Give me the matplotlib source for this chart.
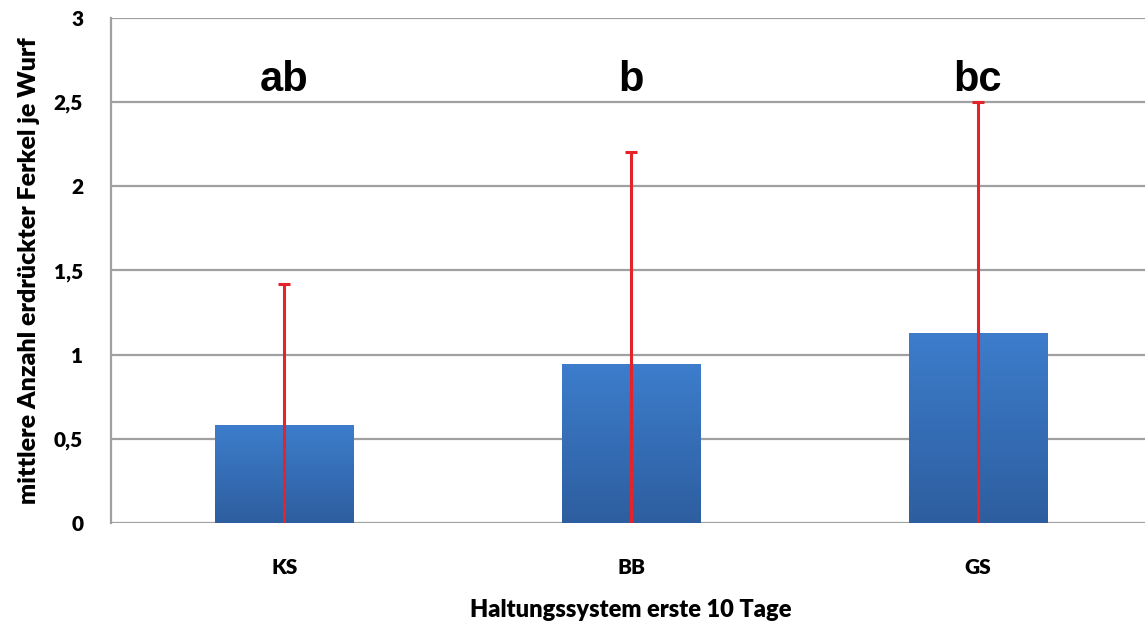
import numpy as np
import matplotlib.pyplot as plt
from matplotlib.colors import LinearSegmentedColormap

# mean crushed piglets per litter, by housing system (first 10 days)
systems = ['KS', 'BB', 'GS']
means = [0.58, 0.945, 1.13]
err_top = [1.42, 2.205, 2.50]
letters = ['ab', 'b', 'bc']

errs = [t - m for t, m in zip(err_top, means)]

plt.rcParams['font.family'] = ['Lato', 'DejaVu Sans']

fig = plt.figure(figsize=(11.45, 6.33), dpi=100)
ax = fig.add_axes([0.0969, 0.1738, 0.9087, 0.7978])

x = np.arange(len(systems))
width = 0.4
bars = ax.bar(x, means, width, color='#3572c0', zorder=2)

# vertical blue gradient inside each bar
cmap = LinearSegmentedColormap.from_list('bar', ['#2d5e9f', '#3d7dcc'])
grad = np.linspace(0, 1, 256).reshape(-1, 1)
for b in bars:
    x0, y0 = b.get_x(), b.get_y()
    im = ax.imshow(grad, cmap=cmap, origin='lower', aspect='auto',
                   extent=[x0, x0 + b.get_width(), y0, y0 + b.get_height()], zorder=2)
    im.set_clip_path(b)

ax.errorbar(x, means, yerr=errs, fmt='none', ecolor='#e4232b', elinewidth=2.2,
            capsize=4, capthick=2.2, zorder=3)

for xi, lab in zip(x, letters):
    ax.text(xi, 2.63, lab, ha='center', va='center', fontsize=30, fontweight='bold',
            family=['Liberation Sans', 'DejaVu Sans'], zorder=4)

ax.set_xlim(-0.5, 2.5)
ax.set_ylim(0, 3)
ax.set_yticks([0, 0.5, 1, 1.5, 2, 2.5, 3])
ax.set_yticklabels(['0', '0,5', '1', '1,5', '2', '2,5', '3'], fontsize=15, fontweight='heavy')
ax.set_xticks(x)
ax.set_xticklabels(systems, fontsize=15, fontweight='heavy')
ax.tick_params(axis='both', length=0)
ax.tick_params(axis='y', pad=20)
ax.tick_params(axis='x', pad=25)
ax.grid(axis='y', color='#a0a0a0', linewidth=1.6, zorder=0)
ax.set_axisbelow(True)
for s in ['top', 'right', 'bottom']:
    ax.spines[s].set_visible(False)
ax.spines['left'].set_color('#a0a0a0')
ax.spines['left'].set_linewidth(1.6)

ax.set_xlabel('Haltungssystem erste 10 Tage', fontsize=17, fontweight='heavy', labelpad=16)
ax.set_ylabel('mittlere Anzahl erdrückter Ferkel je Wurf', fontsize=18, fontweight='heavy', labelpad=10)

fig.savefig('out.png', dpi=100)
